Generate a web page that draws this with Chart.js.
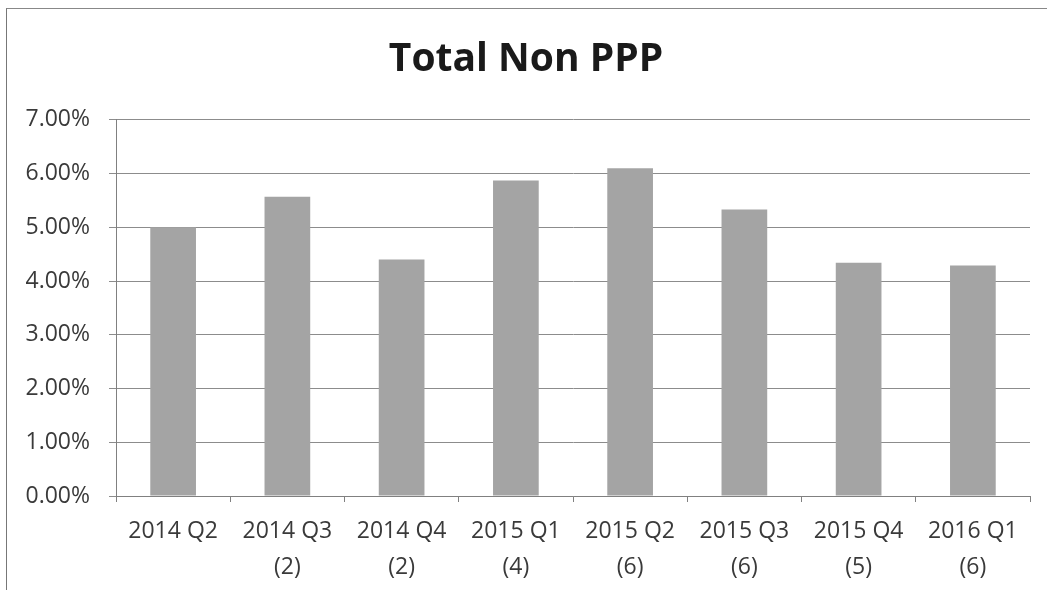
<!DOCTYPE html>
<html>
<head>
<meta charset="utf-8">
<script src="https://cdn.jsdelivr.net/npm/chart.js@4/dist/chart.umd.min.js"></script>
<style>
  html, body { margin: 0; padding: 0; background: #fff; }
  #wrap { position: relative; width: 1047px; height: 590px; }
  #frame { position: absolute; left: 6px; top: 8px; width: 1060px; height: 600px;
           border-left: 1px solid #777; border-top: 1px solid #888; }
  canvas { position: absolute; left: 0; top: 0; }
</style>
</head>
<body>
<div id="wrap">
  <div id="frame"></div>
  <canvas id="chart" width="1047" height="590"></canvas>
</div>
<script>
// Datos
const categories = [
  ['2014 Q2'], ['2014 Q3', '(2)'], ['2014 Q4', '(2)'], ['2015 Q1', '(4)'],
  ['2015 Q2', '(6)'], ['2015 Q3', '(6)'], ['2015 Q4', '(5)'], ['2016 Q1', '(6)']
];
const values = [5.00, 5.57, 4.40, 5.87, 6.10, 5.33, 4.34, 4.29]; // en %
const yTicks = [0, 1, 2, 3, 4, 5, 6, 7];

const labelFont = { family: '"Open Sans", sans-serif', size: 23, lineHeight: 1.55 };

new Chart(document.getElementById('chart').getContext('2d'), {
  type: 'bar',
  data: {
    labels: categories,
    datasets: [{
      data: values,
      backgroundColor: '#a4a4a4',
      borderWidth: 0,
      categoryPercentage: 1,
      barPercentage: 0.4
    }]
  },
  options: {
    responsive: false,
    animation: false,
    layout: { padding: { left: 22, right: 17, top: 0, bottom: 0 } },
    plugins: {
      legend: { display: false },
      tooltip: { enabled: false },
      title: {
        display: true,
        text: 'Total Non PPP',
        color: '#1a1a1a',
        font: { family: '"Open Sans", sans-serif', size: 39, weight: 'bold', lineHeight: 1.2 },
        padding: { top: 36, bottom: 37 }
      }
    },
    scales: {
      x: {
        offset: true,
        grid: { offset: true, drawOnChartArea: false, drawTicks: true, tickLength: 6, color: '#808080' },
        border: { color: '#808080' },
        ticks: { color: '#3a3a3a', font: labelFont, maxRotation: 0, autoSkip: false, padding: 12 },
        afterFit: s => { s.height = 94; }
      },
      y: {
        min: 0,
        max: 7,
        afterBuildTicks: s => { s.ticks = yTicks.map(v => ({ value: v })); },
        grid: { color: '#8c8c8c', tickLength: 7 },
        border: { color: '#808080' },
        ticks: {
          color: '#3a3a3a',
          font: { family: '"Open Sans", sans-serif', size: 23 },
          padding: 19,
          callback: v => v.toFixed(2) + '%'
        },
        afterFit: s => { s.width = 94; }
      }
    }
  }
});
</script>
</body>
</html>
